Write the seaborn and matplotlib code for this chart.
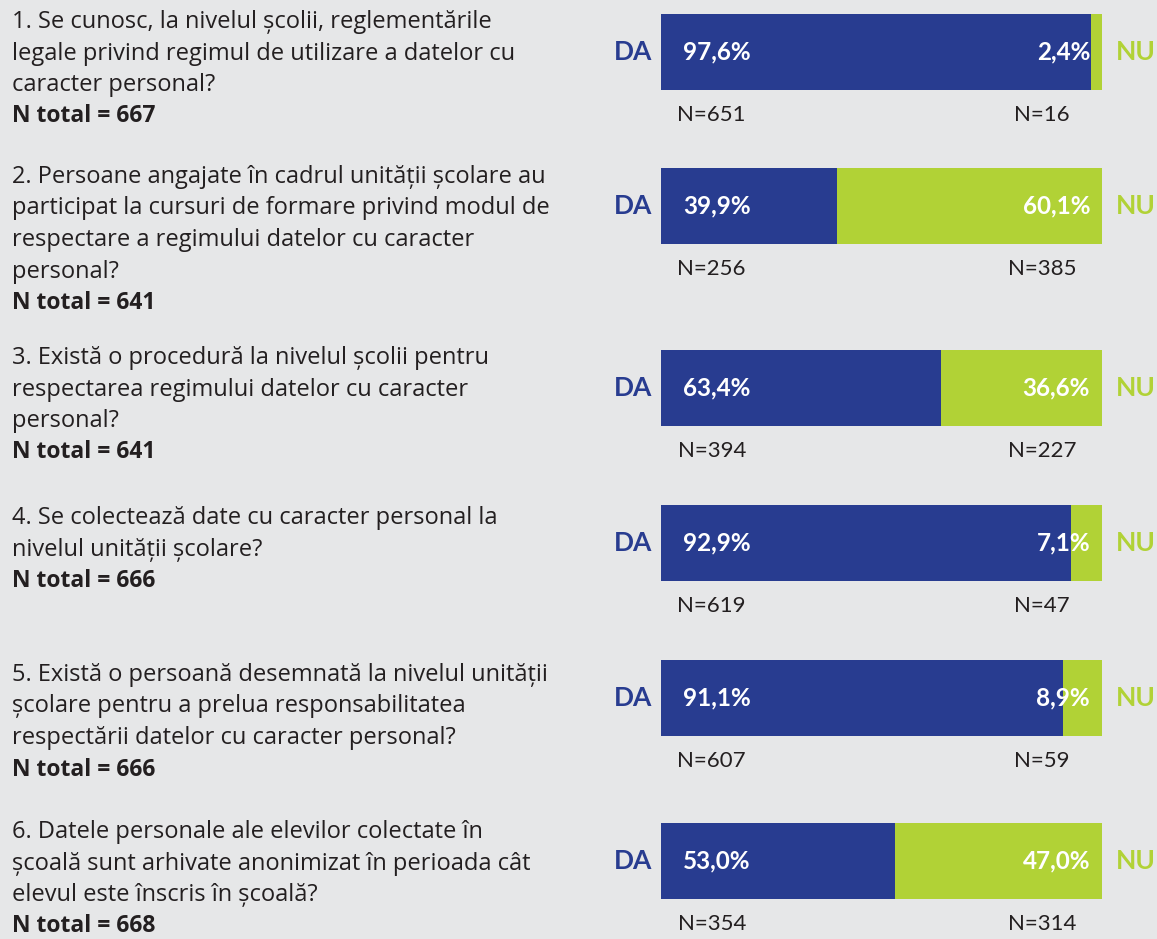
import matplotlib
matplotlib.use("Agg")
import matplotlib.pyplot as plt
import seaborn as sns
import pandas as pd

# date din grafic
questions = [
    ["1. Se cunosc, la nivelul școlii, reglementările",
     "legale privind regimul de utilizare a datelor cu",
     "caracter personal?"],
    ["2. Persoane angajate în cadrul unității școlare au",
     "participat la cursuri de formare privind modul de",
     "respectare a regimului datelor cu caracter",
     "personal?"],
    ["3. Există o procedură la nivelul școlii pentru",
     "respectarea regimului datelor cu caracter",
     "personal?"],
    ["4. Se colectează date cu caracter personal la",
     "nivelul unității școlare?"],
    ["5. Există o persoană desemnată la nivelul unității",
     "școlare pentru a prelua responsabilitatea",
     "respectării datelor cu caracter personal?"],
    ["6. Datele personale ale elevilor colectate în",
     "școală sunt arhivate anonimizat în perioada cât",
     "elevul este înscris în școală?"],
]
da_pct = [97.6, 39.9, 63.4, 92.9, 91.1, 53.0]
nu_pct = [2.4, 60.1, 36.6, 7.1, 8.9, 47.0]
da_n = [651, 256, 394, 619, 607, 354]
nu_n = [16, 385, 227, 47, 59, 314]
n_total = [667, 641, 641, 666, 666, 668]

# layout (pixeli)
W, H = 1157, 939
bar_top = [14, 168, 350, 505, 660, 823]
text_top = [22, 177, 358, 518, 675, 832]
bar_left, bar_w, bar_h = 661, 441, 76
line_h = 31.5

bg = "#e6e7e8"
blue = "#283c90"
green = "#b1d236"
dark = "#231f20"

sns.set_theme(style="white")
plt.rcParams["font.family"] = ["Lato", "DejaVu Sans"]

fig = plt.figure(figsize=(W / 100, H / 100), dpi=100, facecolor=bg)

# axa pentru text, in pixeli
canvas = fig.add_axes([0, 0, 1, 1])
canvas.set_xlim(0, W)
canvas.set_ylim(H, 0)
canvas.axis("off")

def fmt(v):
    return f"{v:.1f}".replace(".", ",") + "%"

qfont = ["Open Sans", "DejaVu Sans"]
for i, lines in enumerate(questions):
    y0 = text_top[i]
    for j, ln in enumerate(lines):
        canvas.text(12, y0 + j * line_h, ln, fontsize=17, color=dark, va="center",
                    ha="left", family=qfont)
    canvas.text(12, y0 + len(lines) * line_h, f"N total = {n_total[i]}", fontsize=16.5,
                color=dark, va="center", ha="left", fontweight="bold", family=qfont)

    df = pd.DataFrame({"q": [""], "da": [da_pct[i]], "total": [da_pct[i] + nu_pct[i]]})
    ax = fig.add_axes([bar_left / W, 1 - (bar_top[i] + bar_h) / H, bar_w / W, bar_h / H])
    ax.set_facecolor(bg)
    sns.barplot(data=df, x="total", y="q", orient="h", color=green, width=1,
                saturation=1, linewidth=0, ax=ax)
    sns.barplot(data=df, x="da", y="q", orient="h", color=blue, width=1,
                saturation=1, linewidth=0, ax=ax)
    ax.set_xlim(0, 100)
    ax.set_ylim(0.5, -0.5)
    ax.axis("off")

    ax.text(5, 0, fmt(da_pct[i]), color="white", fontsize=17.5, fontweight="bold",
            ha="left", va="center")
    ax.text(97.3, 0, fmt(nu_pct[i]), color="white", fontsize=17.5, fontweight="bold",
            ha="right", va="center")
    ax.text(-2, 0, "DA", color=blue, fontsize=19, fontweight="bold",
            ha="right", va="center", clip_on=False)
    ax.text(103.2, 0, "NU", color=green, fontsize=19, fontweight="bold",
            ha="left", va="center", clip_on=False)
    ax.text(11.5, 0.83, f"N={da_n[i]}", color=dark, fontsize=16,
            ha="center", va="center", clip_on=False)
    ax.text(86.4, 0.83, f"N={nu_n[i]}", color=dark, fontsize=16,
            ha="center", va="center", clip_on=False)

fig.savefig("out.png", dpi=100, facecolor=bg)
